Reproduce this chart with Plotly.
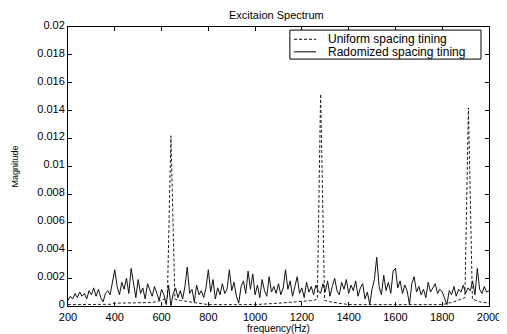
import plotly.graph_objects as go

# Randomized spacing timing (solid), sampled every 10 Hz, in units of 1e-3
rand_freq = list(range(200, 2001, 10))
rand_mag_milli = [
    0.4, 0.7, 0.5, 0.9, 0.6, 1.0, 0.7, 0.9, 0.5, 1.1,
    0.8, 1.3, 0.7, 1.2, 0.6, 0.3, 0.9, 1.1, 0.8, 1.6,
    2.6, 1.4, 0.8, 1.7, 1.2, 2.0, 0.9, 2.7, 1.5, 0.6,
    1.9, 0.9, 1.3, 0.5, 1.6, 1.1, 0.7, 1.4, 0.9, 0.4,
    1.2, 0.8, 0.1, 1.5, 0.0, 0.9, 1.3, 0.6, 1.1, 0.5,
    1.4, 2.8, 0.9, 1.2, 0.3, 1.5, 0.8, 1.1, 0.6, 1.3,
    2.6, 1.0, 1.9, 0.5, 1.3, 0.8, 1.6, 0.9, 1.2, 2.6,
    1.1, 1.7, 0.7, 0.2, 1.4, 1.8, 0.9, 2.5, 1.2, 2.3,
    0.8, 1.5, 0.6, 1.9, 1.1, 0.7, 2.1, 1.0, 1.4, 0.9,
    1.6, 0.8, 1.3, 2.6, 1.2, 1.8, 0.7, 1.5, 2.1, 0.9,
    1.3, 0.6, 1.7, 1.0, 1.4, 0.8, 1.5, 1.1, 0.9, 1.6,
    1.0, 1.8, 0.7, 1.4, 2.0, 1.1, 0.8, 1.7, 1.2, 1.9,
    0.9, 1.5, 1.1, 1.8, 0.7, 1.3, 1.6, 0.5, 1.0, 0.1,
    1.2, 1.9, 3.5, 1.4, 0.8, 2.2, 1.1, 1.7, 0.9, 2.5,
    2.7, 1.3, 1.8, 0.9, 1.5, 1.1, 0.1, 1.6, 2.1, 1.0,
    1.4, 0.8, 1.2, 0.6, 1.7, 1.0, 1.3, 1.6, 0.9, 1.2,
    1.0, 0.6, 0.1, 1.1, 0.8, 1.4, 0.7, 1.2, 1.0, 1.5,
    0.9, 1.3, 1.1, 1.8, 0.8, 2.7, 1.2, 0.9, 1.4, 1.0,
    1.1,
]
rand_mag = [v * 1e-3 for v in rand_mag_milli]

# Uniform spacing timing (dashed)
unif_freq = [200, 300, 380, 400, 500, 560, 600, 615, 625, 640, 657, 680, 720,
             800, 900, 1000, 1100, 1200, 1250, 1266, 1280, 1297, 1320, 1400,
             1500, 1600, 1700, 1800, 1850, 1885, 1897, 1912, 1929, 1960, 2000]
unif_mag = [0.0001, 0.0001, 0.00012, 0.0002, 0.0002, 0.00025, 0.0004, 0.0005, 0.0006,
            0.0122, 0.0005, 0.0004, 0.0003, 0.0001, 0.0001, 0.0001, 0.0002, 0.0003,
            0.0004, 0.0005, 0.0152, 0.0004, 0.0003, 0.0001, 0.0001, 0.0001, 0.0001,
            0.0001, 0.0003, 0.0005, 0.0006, 0.0142, 0.0005, 0.0003, 0.0002]

y_ticks = [0, 0.002, 0.004, 0.006, 0.008, 0.01, 0.012, 0.014, 0.016, 0.018, 0.02]
y_tick_text = ["0", "0.002", "0.004", "0.006", "0.008", "0.01", "0.012", "0.014", "0.016", "0.018", "0.02"]
x_ticks = [200, 400, 600, 800, 1000, 1200, 1400, 1600, 1800, 2000]
legend_labels = ["Uniform spacing tining", "Radomized spacing tining"]
chart_title = "Excitaion Spectrum"

font_family = "Liberation Sans, Arial, sans-serif"
unif_dash = "3px,2px"

fig = go.Figure()
fig.add_trace(go.Scatter(x=unif_freq, y=unif_mag, mode="lines",
                         name=legend_labels[0], showlegend=False,
                         line=dict(color="#222222", width=1, dash=unif_dash)))
fig.add_trace(go.Scatter(x=rand_freq, y=rand_mag, mode="lines",
                         name=legend_labels[1], showlegend=False,
                         line=dict(color="#111111", width=1)))

# MATLAB-style compact legend box drawn in paper coordinates
fig.add_shape(type="rect", xref="paper", yref="paper",
              x0=0.527, x1=0.981, y0=0.885, y1=0.989,
              line=dict(color="black", width=1), fillcolor="white", layer="above")
row_y = [0.956, 0.911]
row_dash = [unif_dash, "solid"]
for label, yy, dash in zip(legend_labels, row_y, row_dash):
    fig.add_shape(type="line", xref="paper", yref="paper",
                  x0=0.537, x1=0.589, y0=yy, y1=yy,
                  line=dict(color="black", width=1, dash=dash), layer="above")
    fig.add_annotation(xref="paper", yref="paper", x=0.612, y=yy,
                       text=label, showarrow=False, xanchor="left", yanchor="middle",
                       font=dict(size=12, family=font_family, color="black"))

# Title placed as an annotation just above the plot area
fig.add_annotation(xref="paper", yref="paper", x=0.496, y=1.043,
                   text=chart_title, showarrow=False, xanchor="center", yanchor="middle",
                   font=dict(size=11, family=font_family, color="black"))

# The page body adds an 8 px offset; the figure is sized/margined to compensate
fig.update_layout(
    width=499, height=326,
    margin=dict(l=60, r=18, t=19, b=28),
    paper_bgcolor="white", plot_bgcolor="white",
    font=dict(family=font_family, size=11, color="black"),
    showlegend=False,
)
fig.update_xaxes(range=[200, 2000], tickvals=x_ticks, showgrid=False, zeroline=False,
                 showline=True, linecolor="black", linewidth=1, mirror="ticks",
                 ticks="inside", ticklen=4, tickcolor="black", automargin=False,
                 ticklabelstandoff=1,
                 title=dict(text="frequency(Hz)", standoff=0, font=dict(size=10)),
                 tickfont=dict(size=11))
fig.update_yaxes(range=[0, 0.02], tickvals=y_ticks, ticktext=y_tick_text,
                 showgrid=False, zeroline=False,
                 showline=True, linecolor="black", linewidth=1, mirror="ticks",
                 ticks="inside", ticklen=4, tickcolor="black", automargin=False,
                 ticklabelshift=-2,
                 title=dict(text="Magnitude", standoff=17, font=dict(size=9)),
                 tickfont=dict(size=11))

fig.write_html("out.html")
